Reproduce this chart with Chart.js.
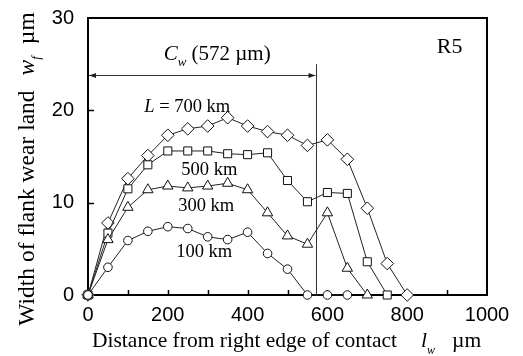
<!DOCTYPE html>
<html>
<head>
<meta charset="utf-8">
<script src="https://cdn.jsdelivr.net/npm/chart.js@4.4.0/dist/chart.umd.min.js"></script>
<style>
  html, body { margin: 0; padding: 0; background: #fff; }
  #wrap { width: 523px; height: 356px; }
</style>
</head>
<body>
<div id="wrap"><canvas id="wearChart" width="523" height="356"></canvas></div>
<script>
// Khoảng cách từ mép phải vùng tiếp xúc (µm), lấy mẫu mỗi 50 µm
const distance = [0, 50, 100, 150, 200, 250, 300, 350, 400, 450, 500, 550, 600, 650, 700, 750, 800];

// Chiều rộng mòn mặt sau w_f (µm) theo quãng cắt L
const wear100 = [0, 3.0, 5.9, 6.9, 7.4, 7.2, 6.3, 6.0, 6.8, 4.5, 2.8, 0, 0, 0];
const wear300 = [0, 6.0, 9.5, 11.4, 11.8, 11.6, 11.8, 12.1, 11.4, 8.9, 6.4, 5.5, 8.9, 2.9, 0];
const wear500 = [0, 6.7, 11.5, 14.1, 15.6, 15.6, 15.6, 15.3, 15.2, 15.4, 12.4, 10.1, 11.1, 11.0, 3.6, 0];
const wear700 = [0, 7.8, 12.6, 15.1, 17.3, 18.0, 18.3, 19.2, 18.3, 17.7, 17.3, 16.2, 16.8, 14.7, 9.4, 3.4, 0];

const seriesLabels = ['100 km', '300 km', '500 km', '700 km'];
const xTicks = [0, 200, 400, 600, 800, 1000];
const xMinorTicks = [100, 200, 300, 400, 500, 600, 700, 800, 900];
const yTicks = [0, 10, 20, 30];
const yMinorTicks = [10, 20];
const contactWidth = 572;

const serif = '"Liberation Serif", "Times New Roman", serif';
const sans = '"Liberation Sans", Arial, sans-serif';

function toPoints(values) {
    return values.map((v, i) => ({ x: distance[i], y: v }));
}

function makeSet(label, values, style, radius) {
    return {
        label: label,
        data: toPoints(values),
        borderColor: '#222',
        borderWidth: 1,
        pointStyle: style,
        pointRadius: radius,
        pointBorderWidth: 1,
        pointBorderColor: '#111',
        pointBackgroundColor: '#fff',
        tension: 0,
        clip: false
    };
}

// Vẽ chuỗi chữ có chỉ số dưới / chữ nghiêng
function richWidth(ctx, parts) {
    let w = 0;
    parts.forEach(p => { ctx.font = p.font; w += ctx.measureText(p.t).width + (p.gap || 0); });
    return w;
}
function drawRich(ctx, parts, x, y) {
    parts.forEach(p => {
        ctx.font = p.font;
        ctx.fillText(p.t, x, y + (p.dy || 0));
        x += ctx.measureText(p.t).width + (p.gap || 0);
    });
}

const decorPlugin = {
    id: 'decor',
    beforeDatasetsDraw(chart) {
        const ctx = chart.ctx;
        const xs = chart.scales.x, ys = chart.scales.y;
        const a = chart.chartArea;
        ctx.save();
        ctx.strokeStyle = '#000';
        ctx.lineWidth = 2;
        ctx.strokeRect(a.left, a.top, a.right - a.left, a.bottom - a.top);

        // vạch chia hướng vào trong
        ctx.lineWidth = 1.5;
        ctx.beginPath();
        xMinorTicks.forEach(v => {
            const px = Math.round(xs.getPixelForValue(v)) + 0.5;
            ctx.moveTo(px, a.bottom);
            ctx.lineTo(px, a.bottom - 5);
        });
        yMinorTicks.forEach(v => {
            const py = Math.round(ys.getPixelForValue(v)) + 0.5;
            ctx.moveTo(a.left, py);
            ctx.lineTo(a.left + 6, py);
        });
        ctx.stroke();

        // đường C_w
        const cx = Math.round(xs.getPixelForValue(contactWidth)) + 0.5;
        ctx.lineWidth = 1;
        ctx.strokeStyle = '#333';
        ctx.beginPath();
        ctx.moveTo(cx, ys.getPixelForValue(25));
        ctx.lineTo(cx, a.bottom);
        ctx.stroke();

        // mũi tên hai đầu
        const ay = Math.round(ys.getPixelForValue(23.8)) + 0.5;
        const x0 = xs.getPixelForValue(0) + 1, x1 = cx - 1;
        ctx.beginPath();
        ctx.moveTo(x0, ay);
        ctx.lineTo(x1, ay);
        ctx.stroke();
        ctx.fillStyle = '#222';
        ctx.beginPath();
        ctx.moveTo(x0, ay); ctx.lineTo(x0 + 7, ay - 2.5); ctx.lineTo(x0 + 7, ay + 2.5); ctx.closePath();
        ctx.moveTo(x1, ay); ctx.lineTo(x1 - 7, ay - 2.5); ctx.lineTo(x1 - 7, ay + 2.5); ctx.closePath();
        ctx.fill();
        ctx.restore();
    },
    afterDraw(chart) {
        const ctx = chart.ctx;
        const xs = chart.scales.x, ys = chart.scales.y;
        ctx.save();
        ctx.fillStyle = '#000';
        ctx.textBaseline = 'alphabetic';
        ctx.textAlign = 'left';

        // nhãn C_w
        const cw = [
            { t: 'C', font: 'italic 21px ' + serif },
            { t: 'w', font: 'italic 13px ' + serif, dy: 6, gap: 5 },
            { t: '(572 µm)', font: '21px ' + serif }
        ];
        const cwx = xs.getPixelForValue(324) - richWidth(ctx, cw) / 2;
        drawRich(ctx, cw, cwx, ys.getPixelForValue(25.4));

        ctx.font = '22px ' + serif;
        ctx.fillText('R5', xs.getPixelForValue(874), ys.getPixelForValue(26.2));

        const lab = '18.5px ' + serif;
        drawRich(ctx, [
            { t: 'L', font: 'italic ' + lab },
            { t: ' = 700 km', font: lab }
        ], xs.getPixelForValue(141), ys.getPixelForValue(19.8));
        ctx.font = lab;
        ctx.fillText(seriesLabels[2], xs.getPixelForValue(234), ys.getPixelForValue(13.0));
        ctx.fillText(seriesLabels[1], xs.getPixelForValue(226), ys.getPixelForValue(9.14));
        ctx.fillText(seriesLabels[0], xs.getPixelForValue(221), ys.getPixelForValue(4.12));

        // tiêu đề trục x
        const xf = '21.5px ' + serif;
        const xt = [
            { t: 'Distance from right edge of contact', font: xf, gap: 24 },
            { t: 'l', font: 'italic ' + xf },
            { t: 'w', font: 'italic 12px ' + serif, dy: 7, gap: 17 },
            { t: 'µm', font: xf }
        ];
        drawRich(ctx, xt, 92, 347);

        // tiêu đề trục y
        const yf = '23.5px ' + serif;
        const yt = [
            { t: 'Width of flank wear land', font: yf, gap: 15 },
            { t: 'w', font: 'italic ' + yf },
            { t: 'f', font: 'italic 13px ' + serif, dy: 6, gap: 12 },
            { t: 'µm', font: yf }
        ];
        const yw = richWidth(ctx, yt);
        ctx.translate(34, 169);
        ctx.rotate(-Math.PI / 2);
        drawRich(ctx, yt, -yw / 2, 0);
        ctx.restore();
    }
};

const ctx = document.getElementById('wearChart').getContext('2d');
new Chart(ctx, {
    type: 'line',
    data: {
        datasets: [
            makeSet(seriesLabels[0], wear100, 'circle', 4.3),
            makeSet(seriesLabels[1], wear300, 'triangle', 6),
            makeSet(seriesLabels[2], wear500, 'rect', 5.7),
            makeSet(seriesLabels[3], wear700, 'rectRot', 6.3)
        ]
    },
    options: {
        responsive: false,
        animation: false,
        layout: { padding: { top: 16, right: 36, left: 0, bottom: 0 } },
        plugins: { legend: { display: false }, tooltip: { enabled: false } },
        scales: {
            x: {
                type: 'linear',
                min: 0,
                max: 1000,
                afterBuildTicks: s => { s.ticks = xTicks.map(v => ({ value: v })); },
                afterFit: s => { s.height = 61; },
                ticks: {
                    color: '#000', font: { family: sans, size: 20 }, padding: 0, maxRotation: 0,
                    callback: v => String(v)
                },
                grid: { display: false },
                border: { display: false }
            },
            y: {
                min: 0,
                max: 30,
                afterBuildTicks: s => { s.ticks = yTicks.map(v => ({ value: v })); },
                afterFit: s => { s.width = 88; },
                ticks: { color: '#000', font: { family: sans, size: 20 }, padding: 6, callback: v => String(v) },
                grid: { display: false },
                border: { display: false }
            }
        }
    },
    plugins: [decorPlugin]
});
</script>
</body>
</html>
